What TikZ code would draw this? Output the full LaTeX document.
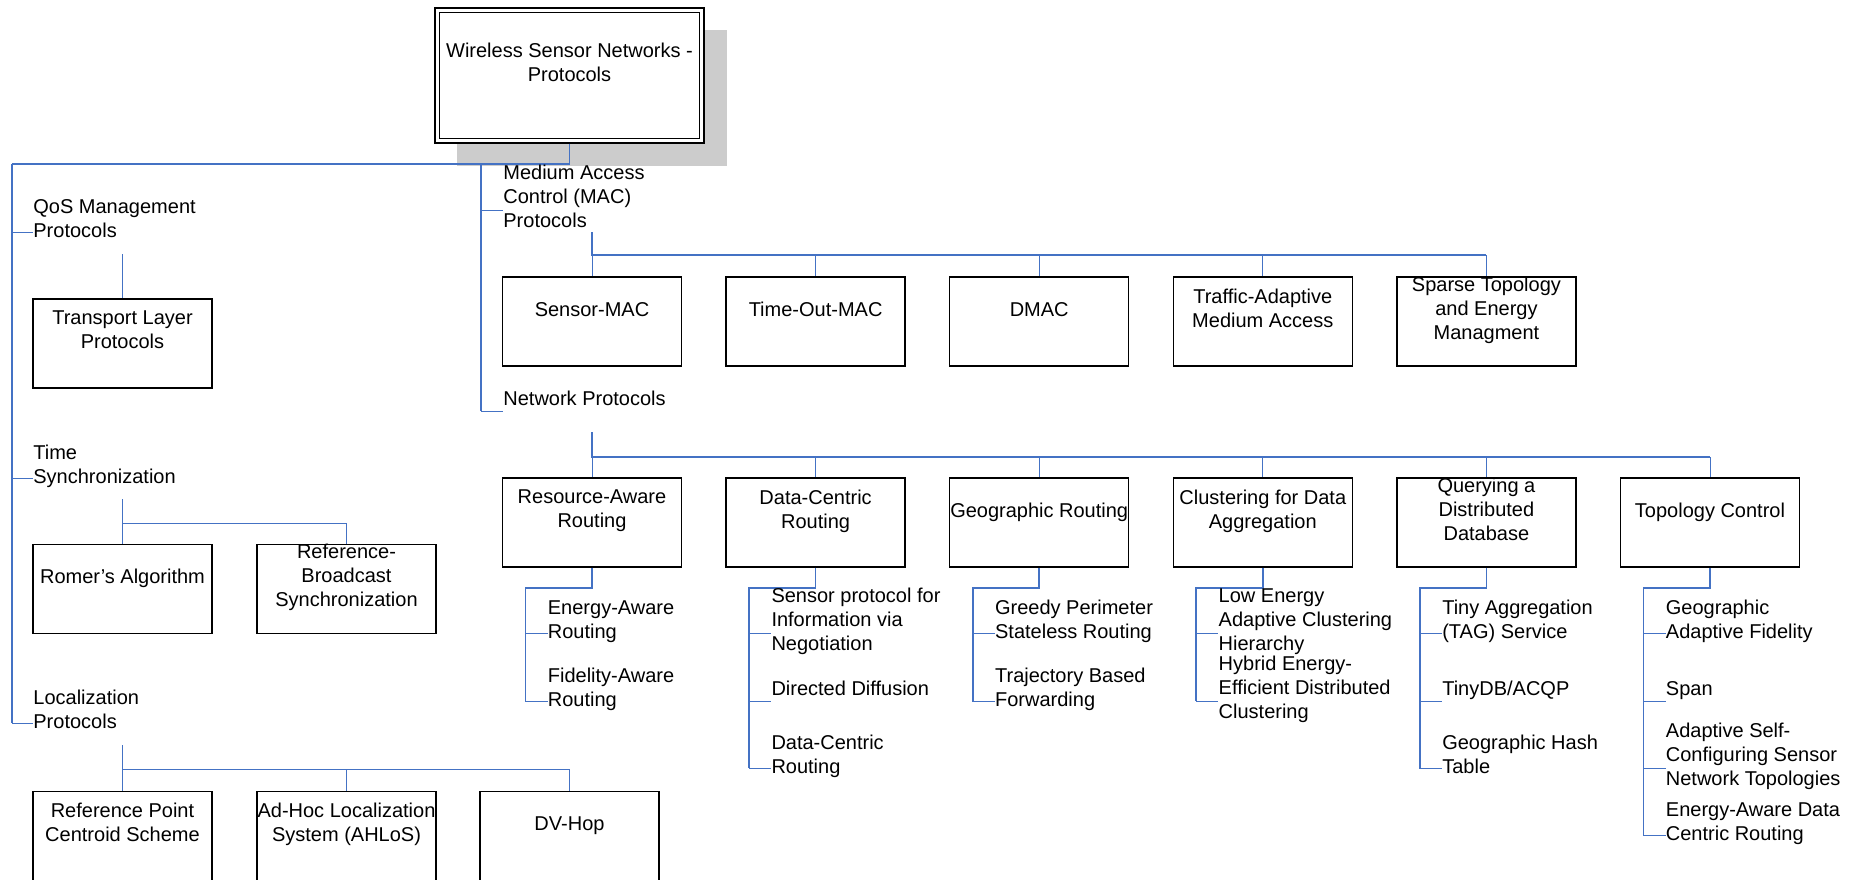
\documentclass[tikz,border=0pt]{standalone}
\usepackage{fontspec}
\setmainfont{Liberation Sans}
\definecolor{lnblue}{RGB}{68,114,196}
\definecolor{shadowgray}{RGB}{204,204,204}
\begin{document}
\begin{tikzpicture}[x=0.5pt,y=-0.5pt,
  thin/.style={draw=lnblue,line width=0.5pt},
  thick/.style={draw=lnblue,line width=0.85pt},
  box/.style={draw=black,line width=0.7pt,fill=white,minimum width=89.5pt,minimum height=44.5pt,inner sep=0pt},
  btxt/.style={inner sep=0pt,align=center,font=\fontsize{10pt}{12pt}\selectfont,execute at begin node=\strut,execute at end node=\strut},
  ltxt/.style={inner sep=0pt,align=left,anchor=west,yshift=5pt,font=\fontsize{10pt}{12pt}\selectfont,execute at begin node=\strut,execute at end node=\strut}
]
\useasboundingbox (0,0) rectangle (1858,879);

% ---------- root ----------
\fill[shadowgray] (457,30) rectangle (727,166);
\node[draw=black,line width=0.7pt,fill=white,minimum width=134.5pt,minimum height=67.5pt,inner sep=0pt] (root) at (569.5,75.5) {};
\draw[line width=0.55pt] ([shift={(5,5)}]root.north west) rectangle ([shift={(-5,-5)}]root.south east);
\node[btxt] (roottxt) at ([yshift=5pt]root.center) {Wireless Sensor Networks -\\Protocols};

\coordinate (jr) at (569.5,164);
\coordinate (lb) at (12,164);
\coordinate (mb) at (481,164);
\draw[thick] (root.south) -- (jr) -- (lb);

% ---------- left column ----------
\coordinate (qosT) at (33,232);
\coordinate (timeT) at (33,478);
\coordinate (locT) at (33,723);
\draw[thick] (lb) -- (12,723);
\draw[thin] (lb) |- (qosT);
\draw[thin] (lb) |- (timeT);
\draw[thin] (lb) |- (locT);
\node[ltxt] (qos) at (qosT) {QoS Management\\Protocols};
\node[ltxt] (time) at (timeT) {Time\\Synchronization};
\node[ltxt] (loc) at (locT) {Localization\\Protocols};

\node[box] (tlp) at (122.5,343.5) {};
\node[btxt] at ([yshift=5pt]tlp.center) {Transport Layer\\Protocols};
\coordinate (qosD) at (122.5,254);
\draw[thick] (qosD) -- (tlp.north);

\node[box] (romer) at (122.5,589) {};
\node[btxt] at ([yshift=5pt]romer.center) {Romer’s Algorithm};
\node[box] (rbs) at (346.5,589) {};
\node[btxt] at ([yshift=5pt]rbs.center) {Reference-\\Broadcast\\Synchronization};
\coordinate (timeD) at (122.5,499);
\coordinate (timeJ) at (122.5,523);
\draw[thick] (timeD) -- (timeJ);
\draw[thin] (timeJ) -- (romer.north);
\draw[thin] (timeJ) -| (rbs.north);

\node[box] (rpc) at (122.5,836) {};
\node[btxt] at ([yshift=5pt]rpc.center) {Reference Point\\Centroid Scheme};
\node[box] (ahlos) at (346.5,836) {};
\node[btxt] at ([yshift=5pt]ahlos.center) {Ad-Hoc Localization\\System (AHLoS)};
\node[box] (dvhop) at (569.5,836) {};
\node[btxt] at ([yshift=5pt]dvhop.center) {DV-Hop};
\coordinate (locD) at (122.5,745);
\coordinate (locJ) at (122.5,769);
\draw[thick] (locD) -- (locJ);
\draw[thin] (locJ) -- (rpc.north);
\draw[thin] (locJ) -| (ahlos.north);
\draw[thin] (locJ) -| (dvhop.north);

% ---------- MAC / network branch ----------
\coordinate (macT) at (503,210);
\coordinate (netT) at (503,411);
\draw[thick] (mb) -- (481,411);
\draw[thin] (mb) |- (macT);
\draw[thin] (mb) |- (netT);
\node[ltxt] (mac) at (macT) {Medium Access\\Control (MAC)\\Protocols};
\node[ltxt] (net) at (netT) {Network Protocols};

% MAC boxes
\node[box] (smac) at (592,321.5) {};
\node[btxt] at ([yshift=5pt]smac.center) {Sensor-MAC};
\node[box] (tmac) at (815.6,321.5) {};
\node[btxt] at ([yshift=5pt]tmac.center) {Time-Out-MAC};
\node[box] (dmac) at (1039.2,321.5) {};
\node[btxt] at ([yshift=5pt]dmac.center) {DMAC};
\node[box] (trama) at (1262.8,321.5) {};
\node[btxt] at ([yshift=5pt]trama.center) {Traffic-Adaptive\\Medium Access};
\node[box] (stem) at (1486.4,321.5) {};
\node[btxt] at ([yshift=5pt]stem.center) {Sparse Topology\\and Energy\\Managment};
\coordinate (macD) at (592,232);
\coordinate (macJ) at (592,255);
\draw[thick] (macD) -- (macJ) -- (1486.4,255);
\draw[thin] (macJ) -- (smac.north);
\draw[thin] (macJ) -| (tmac.north);
\draw[thin] (macJ) -| (dmac.north);
\draw[thin] (macJ) -| (trama.north);
\draw[thin] (macJ) -| (stem.north);

% Network boxes
\node[box] (ra) at (592,522.5) {};
\node[btxt] at ([yshift=5pt]ra.center) {Resource-Aware\\Routing};
\node[box] (dc) at (815.6,522.5) {};
\node[btxt] at ([yshift=5pt]dc.center) {Data-Centric\\Routing};
\node[box] (geo) at (1039.2,522.5) {};
\node[btxt] at ([yshift=5pt]geo.center) {Geographic Routing};
\node[box] (clu) at (1262.8,522.5) {};
\node[btxt] at ([yshift=5pt]clu.center) {Clustering for Data\\Aggregation};
\node[box] (qdd) at (1486.4,522.5) {};
\node[btxt] at ([yshift=5pt]qdd.center) {Querying a\\Distributed\\Database};
\node[box] (topo) at (1710,522.5) {};
\node[btxt] at ([yshift=5pt]topo.center) {Topology Control};
\coordinate (netD) at (592,432);
\coordinate (netJ) at (592,457);
\draw[thick] (netD) -- (netJ) -- (1710,457);
\draw[thin] (netJ) -- (ra.north);
\draw[thin] (netJ) -| (dc.north);
\draw[thin] (netJ) -| (geo.north);
\draw[thin] (netJ) -| (clu.north);
\draw[thin] (netJ) -| (qdd.north);
\draw[thin] (netJ) -| (topo.north);

% ---------- sub lists ----------
% Resource-Aware
\coordinate (raJ) at (525.5,588);
\coordinate (ra1) at (547.5,633);
\coordinate (ra2) at (547.5,701);
\draw[thick] (ra.south) |- (raJ) -- (525.5,701);
\draw[thin] (raJ) |- (ra1);
\draw[thin] (raJ) |- (ra2);
\node[ltxt] at (ra1) {Energy-Aware\\Routing};
\node[ltxt] at (ra2) {Fidelity-Aware\\Routing};

% Data-Centric
\coordinate (dcJ) at (749.1,588);
\coordinate (dc1) at (771.1,633);
\coordinate (dc2) at (771.1,701);
\coordinate (dc3) at (771.1,768);
\draw[thick] (dc.south) |- (dcJ) -- (749.1,768);
\draw[thin] (dcJ) |- (dc1);
\draw[thin] (dcJ) |- (dc2);
\draw[thin] (dcJ) |- (dc3);
\node[ltxt] at (dc1) {Sensor protocol for\\Information via\\Negotiation};
\node[ltxt] at (dc2) {Directed Diffusion};
\node[ltxt] at (dc3) {Data-Centric\\Routing};

% Geographic
\coordinate (geoJ) at (972.7,588);
\coordinate (geo1) at (994.7,633);
\coordinate (geo2) at (994.7,701);
\draw[thick] (geo.south) |- (geoJ) -- (972.7,701);
\draw[thin] (geoJ) |- (geo1);
\draw[thin] (geoJ) |- (geo2);
\node[ltxt] at (geo1) {Greedy Perimeter\\Stateless Routing};
\node[ltxt] at (geo2) {Trajectory Based\\Forwarding};

% Clustering
\coordinate (cluJ) at (1196.3,588);
\coordinate (clu1) at (1218.3,633);
\coordinate (clu2) at (1218.3,701);
\draw[thick] (clu.south) |- (cluJ) -- (1196.3,701);
\draw[thin] (cluJ) |- (clu1);
\draw[thin] (cluJ) |- (clu2);
\node[ltxt] at (clu1) {Low Energy\\Adaptive Clustering\\Hierarchy};
\node[ltxt] at (clu2) {Hybrid Energy-\\Efficient Distributed\\Clustering};

% Querying
\coordinate (qddJ) at (1419.9,588);
\coordinate (qdd1) at (1441.9,633);
\coordinate (qdd2) at (1441.9,701);
\coordinate (qdd3) at (1441.9,768);
\draw[thick] (qdd.south) |- (qddJ) -- (1419.9,768);
\draw[thin] (qddJ) |- (qdd1);
\draw[thin] (qddJ) |- (qdd2);
\draw[thin] (qddJ) |- (qdd3);
\node[ltxt] at (qdd1) {Tiny Aggregation\\(TAG) Service};
\node[ltxt] at (qdd2) {TinyDB/ACQP};
\node[ltxt] at (qdd3) {Geographic Hash\\Table};

% Topology
\coordinate (topoJ) at (1643.5,588);
\coordinate (topo1) at (1665.5,633);
\coordinate (topo2) at (1665.5,701);
\coordinate (topo3) at (1665.5,768);
\coordinate (topo4) at (1665.5,835);
\draw[thick] (topo.south) |- (topoJ) -- (1643.5,835);
\draw[thin] (topoJ) |- (topo1);
\draw[thin] (topoJ) |- (topo2);
\draw[thin] (topoJ) |- (topo3);
\draw[thin] (topoJ) |- (topo4);
\node[ltxt] at (topo1) {Geographic\\Adaptive Fidelity};
\node[ltxt] at (topo2) {Span};
\node[ltxt] at (topo3) {Adaptive Self-\\Configuring Sensor\\Network Topologies};
\node[ltxt] at (topo4) {Energy-Aware Data\\Centric Routing};
\end{tikzpicture}
\end{document}
